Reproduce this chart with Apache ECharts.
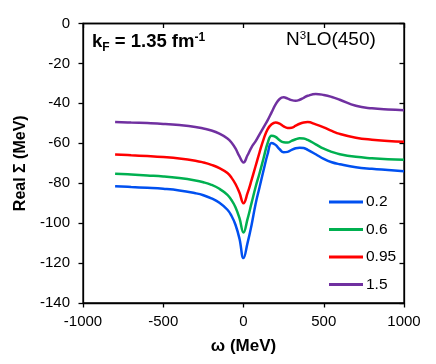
<!DOCTYPE html>
<html>
<head>
<meta charset="utf-8">
<script src="https://cdn.jsdelivr.net/npm/echarts@6/dist/echarts.min.js"></script>
<style>
  html, body { margin: 0; padding: 0; background: #fff; }
  #main { width: 436px; height: 364px; }
</style>
</head>
<body>
<div id="main"></div>
<script>
// omega grid (MeV), shared by all four curves
var omega = [-800, -700, -600, -500, -400, -300, -250, -200, -150, -100, -75, -50, -25, 0,
  25, 50, 75, 100, 125, 150, 175, 200, 225, 250, 275, 300, 325, 350, 375, 400,
  450, 500, 550, 600, 700, 800, 900, 1000];

var names = ['0.2', '0.6', '0.95', '1.5'];
var colors = ['#0050f0', '#00b050', '#ff0000', '#7030a0'];

var sig02 = [-81.5, -81.9, -82.3, -82.8, -83.6, -85.0, -86.0, -87.6, -89.8, -93.3, -96.3, -100.8, -107.8, -117.5,
  -110, -101, -90.5, -82, -73.5, -65.5, -59.8, -60.8, -63, -64.5, -64.3, -63.3, -62.5, -62.2, -62.4, -63.3,
  -65.5, -67.8, -69.5, -70.5, -72, -72.8, -73.4, -74];
var sig06 = [-75.2, -75.6, -76.1, -76.6, -77.4, -78.6, -79.5, -80.8, -82.8, -85.8, -88.4, -92, -97.5, -104.7,
  -98, -90, -82, -75, -67.5, -60, -56.2, -56.8, -58.5, -59.5, -59.6, -58.8, -58, -57.5, -57.6, -58.3,
  -60.5, -62.7, -64.3, -65.5, -66.8, -67.5, -68, -68.3];
var sig095 = [-65.6, -66, -66.4, -66.9, -67.6, -68.7, -69.6, -70.8, -72.4, -74.9, -77.2, -80.4, -84.8, -90,
  -85, -78.5, -71.5, -64.5, -58, -53, -50.5, -49.6, -50.2, -51.5, -52.3, -52.2, -51.2, -50.2, -49.6, -49.4,
  -50.5, -52, -53.8, -55.3, -57.2, -58.2, -58.8, -59.2];
var sig15 = [-49.3, -49.6, -49.9, -50.3, -50.9, -51.8, -52.6, -53.6, -55.2, -57.6, -59.6, -62.6, -66.6, -69.6,
  -66, -62, -59, -55.5, -52, -48.5, -44.5, -40.5, -37.8, -37, -37.6, -38.4, -38.7, -38.2, -37.2, -36.2,
  -35.3, -35.8, -36.8, -38.2, -41.2, -42.5, -43.1, -43.4];

var allSig = [sig02, sig06, sig095, sig15];

var FONT = '"Liberation Sans", Arial, sans-serif';

var pairs = function(ys) {
  return omega.map(function(x, i) { return [x, ys[i]]; });
};

var xBase = {
  type: 'value', min: -1000, max: 1000, interval: 500,
  axisLine: { onZero: false, lineStyle: { color: '#000', width: 1.3 } },
  splitLine: { show: false }
};
var yBase = {
  type: 'value', min: -140, max: 0, interval: 20,
  axisLine: { onZero: false, lineStyle: { color: '#000', width: 1.3 } },
  splitLine: { show: false }
};

var series = names.map(function(n, i) {
  return {
    name: n,
    type: 'line',
    smooth: 0.45,
    showSymbol: false,
    symbol: 'none',
    color: colors[i],
    lineStyle: { width: 2.5, color: colors[i] },
    data: pairs(allSig[i])
  };
});

var option = {
  animation: false,
  backgroundColor: '#fff',
  grid: { left: 83, right: 32, top: 23.5, bottom: 61, show: true, borderColor: '#000', borderWidth: 1.3 },
  xAxis: [
    Object.assign({}, xBase, {
      name: 'ω (MeV)', nameLocation: 'middle', nameGap: 35,
      nameTextStyle: { fontFamily: FONT, fontSize: 17, fontWeight: 'bold', color: '#000' },
      axisTick: { inside: false, length: 4.5, lineStyle: { color: '#000', width: 1.3 } },
      axisLabel: { fontFamily: FONT, fontSize: 15, color: '#000', margin: 11,
        formatter: function(v) { return String(v); } }
    }),
    Object.assign({}, xBase, {
      axisTick: { inside: true, length: 4.5, lineStyle: { color: '#000', width: 1.3 } },
      axisLabel: { show: false }
    })
  ],
  yAxis: [
    Object.assign({}, yBase, {
      name: 'Real Σ (MeV)', nameLocation: 'middle', nameGap: 43,
      nameTextStyle: { fontFamily: FONT, fontSize: 16, fontWeight: 'bold', color: '#000' },
      axisTick: { inside: false, length: 4.5, lineStyle: { color: '#000', width: 1.3 } },
      axisLabel: { fontFamily: FONT, fontSize: 15, color: '#000', margin: 13 }
    }),
    Object.assign({}, yBase, {
      axisTick: { inside: true, length: 4.5, lineStyle: { color: '#000', width: 1.3 } },
      axisLabel: { show: false }
    })
  ],
  legend: {
    orient: 'vertical',
    left: 324, top: 189,
    icon: 'rect',
    itemWidth: 34, itemHeight: 3,
    itemGap: 11.5,
    textStyle: { fontFamily: FONT, fontSize: 15.5, color: '#000', lineHeight: 16, padding: [0, 0, 0, -2] },
    data: names
  },
  graphic: [
    {
      type: 'text', left: 92, top: 32,
      style: {
        text: '{a|k}{b|F}{a| = 1.35 fm}{c|-1}',
        fill: '#000',
        rich: {
          a: { fontFamily: FONT, fontSize: 18.5, fontWeight: 'bold', fill: '#000', verticalAlign: 'bottom' },
          b: { fontFamily: FONT, fontSize: 12, fontWeight: 'bold', fill: '#000', verticalAlign: 'bottom', padding: [0, 0, -3, 0] },
          c: { fontFamily: FONT, fontSize: 12, fontWeight: 'bold', fill: '#000', verticalAlign: 'top' }
        }
      }
    },
    {
      type: 'text', left: 286, top: 30,
      style: {
        text: '{n|N}{s|3}{n|LO(450)}',
        fill: '#000',
        rich: {
          n: { fontFamily: FONT, fontSize: 19, fill: '#000', verticalAlign: 'bottom' },
          s: { fontFamily: FONT, fontSize: 11.5, fill: '#000', verticalAlign: 'top' }
        }
      }
    }
  ],
  series: series
};

var chart = echarts.init(document.getElementById('main'));
chart.setOption(option);
</script>
</body>
</html>
